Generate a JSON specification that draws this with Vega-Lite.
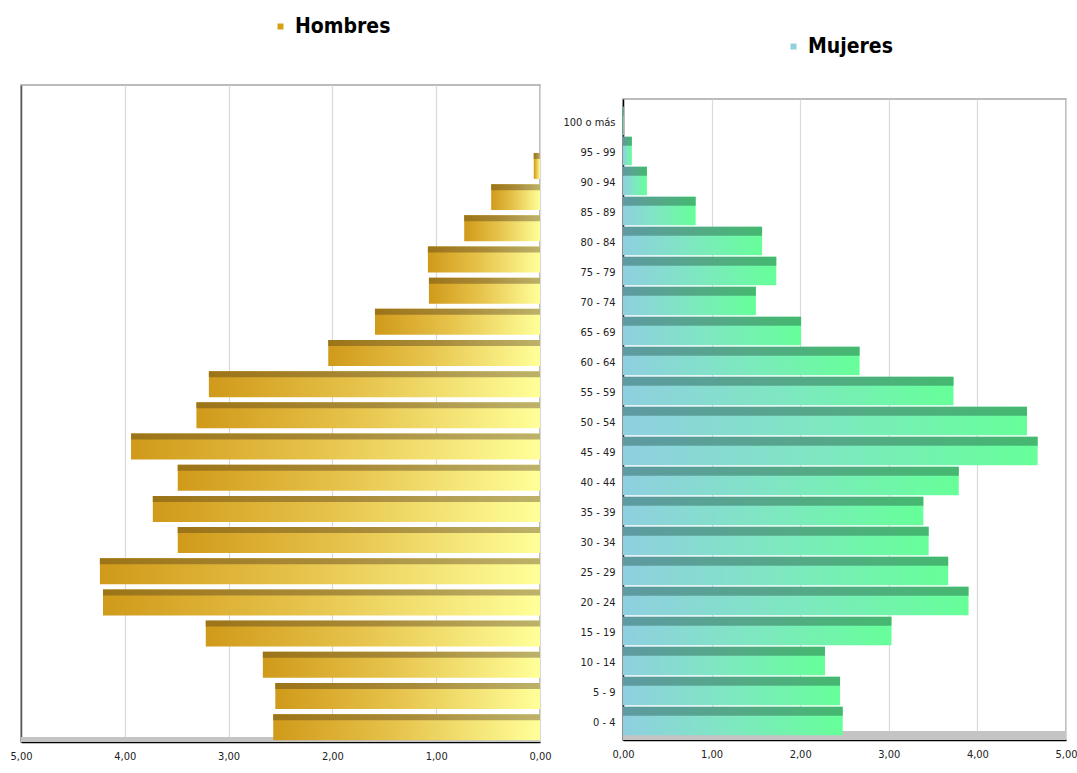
{
  "$schema": "https://vega.github.io/schema/vega-lite/v6.json",
  "padding": {"left": 9, "top": 15, "right": 0, "bottom": 0},
  "background": "white",
  "spacing": 10,
  "datasets": {
    "piramide": [
      {"edad": "0 - 4", "hombres": 2.57, "mujeres": 2.48},
      {"edad": "5 - 9", "hombres": 2.55, "mujeres": 2.45},
      {"edad": "10 - 14", "hombres": 2.67, "mujeres": 2.28},
      {"edad": "15 - 19", "hombres": 3.22, "mujeres": 3.03},
      {"edad": "20 - 24", "hombres": 4.21, "mujeres": 3.90},
      {"edad": "25 - 29", "hombres": 4.24, "mujeres": 3.67},
      {"edad": "30 - 34", "hombres": 3.49, "mujeres": 3.45},
      {"edad": "35 - 39", "hombres": 3.73, "mujeres": 3.39},
      {"edad": "40 - 44", "hombres": 3.49, "mujeres": 3.79},
      {"edad": "45 - 49", "hombres": 3.94, "mujeres": 4.68},
      {"edad": "50 - 54", "hombres": 3.31, "mujeres": 4.56},
      {"edad": "55 - 59", "hombres": 3.19, "mujeres": 3.73},
      {"edad": "60 - 64", "hombres": 2.04, "mujeres": 2.67},
      {"edad": "65 - 69", "hombres": 1.59, "mujeres": 2.01},
      {"edad": "70 - 74", "hombres": 1.07, "mujeres": 1.50},
      {"edad": "75 - 79", "hombres": 1.08, "mujeres": 1.73},
      {"edad": "80 - 84", "hombres": 0.73, "mujeres": 1.57},
      {"edad": "85 - 89", "hombres": 0.47, "mujeres": 0.82},
      {"edad": "90 - 94", "hombres": 0.06, "mujeres": 0.27},
      {"edad": "95 - 99", "hombres": 0.0, "mujeres": 0.10},
      {"edad": "100 o más", "hombres": 0.0, "mujeres": 0.01}
    ],
    "leyendaH": [{"sexo": "Hombres"}],
    "leyendaM": [{"sexo": "Mujeres"}]
  },
  "config": {
    "font": "DejaVu Sans Condensed, sans-serif",
    "view": {"stroke": "#a6a6a6", "strokeWidth": 1.5},
    "axis": {
      "labelFont": "DejaVu Sans Condensed, sans-serif",
      "labelFontSize": 11,
      "labelColor": "#222222",
      "title": null
    },
    "legend": {
      "labelFont": "DejaVu Sans Condensed, sans-serif"
    }
  },
  "hconcat": [
    {
      "width": 519,
      "height": 657,
      "layer": [
        {
          "data": {"name": "leyendaH"},
          "mark": {"type": "bar", "color": "#c4c4c4", "height": 5, "yOffset": 12.3},
          "encoding": {
            "x": {"datum": 0, "type": "quantitative", "scale": {"domain": [0, 5], "reverse": true}},
            "x2": {"datum": 5},
            "y": {"datum": "0 - 4", "type": "nominal"}
          }
        },
        {
          "data": {"name": "piramide"},
          "mark": {
            "type": "bar",
            "color": {
              "gradient": "linear",
              "x1": 0, "y1": 0, "x2": 1, "y2": 0,
              "stops": [
                {"offset": 0, "color": "#d09a1a"},
                {"offset": 0.45, "color": "#e6c24a"},
                {"offset": 1, "color": "#ffff99"}
              ]
            }
          },
          "encoding": {
            "y": {
              "field": "edad", "type": "nominal",
              "sort": ["100 o más","95 - 99","90 - 94","85 - 89","80 - 84","75 - 79","70 - 74","65 - 69","60 - 64","55 - 59","50 - 54","45 - 49","40 - 44","35 - 39","30 - 34","25 - 29","20 - 24","15 - 19","10 - 14","5 - 9","0 - 4"],
              "scale": {"paddingInner": 0.167, "paddingOuter": 0.12, "align": 0.75},
              "axis": {"labels": false, "ticks": false, "domainColor": "#555555", "domainWidth": 1.5}
            },
            "x": {
              "field": "hombres", "type": "quantitative",
              "scale": {"domain": [0, 5], "reverse": true},
              "axis": {
                "values": [0, 1, 2, 3, 4, 5],
                "labelExpr": "replace(format(datum.value, '.2f'), '.', ',')",
                "labelFlush": false,
                "ticks": false,
                "labelPadding": 8,
                "domainColor": "#000000",
                "domainWidth": 1.5,
                "grid": true,
                "gridColor": "#d9d9d9",
                "gridWidth": 1.2
              }
            }
          }
        },
        {
          "data": {"name": "piramide"},
          "mark": {
            "type": "bar",
            "height": 6,
            "yOffset": -10,
            "color": {
              "gradient": "linear",
              "x1": 0, "y1": 0, "x2": 1, "y2": 0,
              "stops": [
                {"offset": 0, "color": "#9c7418"},
                {"offset": 0.5, "color": "#a88a38"},
                {"offset": 1, "color": "#bdb26a"}
              ]
            }
          },
          "encoding": {
            "y": {"field": "edad", "type": "nominal", "sort": ["100 o más","95 - 99","90 - 94","85 - 89","80 - 84","75 - 79","70 - 74","65 - 69","60 - 64","55 - 59","50 - 54","45 - 49","40 - 44","35 - 39","30 - 34","25 - 29","20 - 24","15 - 19","10 - 14","5 - 9","0 - 4"]},
            "x": {"field": "hombres", "type": "quantitative"}
          }
        },
        {
          "data": {"name": "leyendaH"},
          "mark": {"type": "point", "opacity": 0, "filled": true, "shape": "square"},
          "encoding": {
            "color": {
              "field": "sexo", "type": "nominal",
              "scale": {"range": ["#d4a017"]},
              "legend": {
                "orient": "none",
                "legendX": 249,
                "legendY": -69,
                "title": null,
                "symbolType": "square",
                "symbolSize": 36,
                "symbolOpacity": 1,
                "labelFontSize": 21,
                "labelFontWeight": "bold",
                "labelColor": "#000000",
                "labelOffset": 4
              }
            }
          }
        }
      ]
    },
    {
      "spacing": 0,
      "vconcat": [
        {
          "width": 443,
          "height": 13,
          "view": {"stroke": null},
          "data": {"name": "leyendaM"},
          "mark": {"type": "point", "opacity": 0, "filled": true, "shape": "square"},
          "encoding": {
            "color": {
              "field": "sexo", "type": "nominal",
              "scale": {"range": ["#8fd0dc"]},
              "legend": {
                "orient": "none",
                "legendX": 160,
                "legendY": -49,
                "title": null,
                "symbolType": "square",
                "symbolSize": 36,
                "symbolOpacity": 1,
                "labelFontSize": 21,
                "labelFontWeight": "bold",
                "labelColor": "#000000",
                "labelOffset": 4
              }
            }
          }
        },
        {
          "width": 443,
          "height": 641,
          "layer": [
            {
              "data": {"name": "leyendaM"},
              "mark": {"type": "bar", "color": "#c4c4c4", "height": 9, "yOffset": 12.5},
              "encoding": {
                "x": {"datum": 0, "type": "quantitative", "scale": {"domain": [0, 5]}},
                "x2": {"datum": 5},
                "y": {"datum": "0 - 4", "type": "nominal"}
              }
            },
            {
              "data": {"name": "piramide"},
              "mark": {
                "type": "bar",
                "yOffset": -2,
                "color": {
                  "gradient": "linear",
                  "x1": 0, "y1": 0, "x2": 1, "y2": 0,
                  "stops": [
                    {"offset": 0, "color": "#8fcfe0"},
                    {"offset": 0.5, "color": "#7ee8c0"},
                    {"offset": 1, "color": "#66ff99"}
                  ]
                }
              },
              "encoding": {
                "y": {
                  "field": "edad", "type": "nominal",
                  "sort": ["100 o más","95 - 99","90 - 94","85 - 89","80 - 84","75 - 79","70 - 74","65 - 69","60 - 64","55 - 59","50 - 54","45 - 49","40 - 44","35 - 39","30 - 34","25 - 29","20 - 24","15 - 19","10 - 14","5 - 9","0 - 4"],
                  "scale": {"paddingInner": 0.05, "paddingOuter": 0.208, "align": 0.78},
                  "axis": {"ticks": false, "labelPadding": 8, "domainColor": "#000000", "domainWidth": 1.5}
                },
                "x": {
                  "field": "mujeres", "type": "quantitative",
                  "scale": {"domain": [0, 5]},
                  "axis": {
                    "values": [0, 1, 2, 3, 4, 5],
                    "labelExpr": "replace(format(datum.value, '.2f'), '.', ',')",
                    "labelFlush": false,
                    "ticks": false,
                    "labelPadding": 8,
                    "domainColor": "#000000",
                    "domainWidth": 1.5,
                    "grid": true,
                    "gridColor": "#d9d9d9",
                    "gridWidth": 1.2
                  }
                }
              }
            },
            {
              "data": {"name": "piramide"},
              "mark": {
                "type": "bar",
                "height": 9,
                "yOffset": -11.75,
                "color": {
                  "gradient": "linear",
                  "x1": 0, "y1": 0, "x2": 1, "y2": 0,
                  "stops": [
                    {"offset": 0, "color": "#5e9aa2"},
                    {"offset": 0.5, "color": "#55a888"},
                    {"offset": 1, "color": "#45b870"}
                  ]
                }
              },
              "encoding": {
                "y": {"field": "edad", "type": "nominal", "sort": ["100 o más","95 - 99","90 - 94","85 - 89","80 - 84","75 - 79","70 - 74","65 - 69","60 - 64","55 - 59","50 - 54","45 - 49","40 - 44","35 - 39","30 - 34","25 - 29","20 - 24","15 - 19","10 - 14","5 - 9","0 - 4"]},
                "x": {"field": "mujeres", "type": "quantitative"}
              }
            }
          ]
        }
      ]
    }
  ],
  "resolve": {"scale": {"color": "independent"}, "legend": {"color": "independent"}}
}
